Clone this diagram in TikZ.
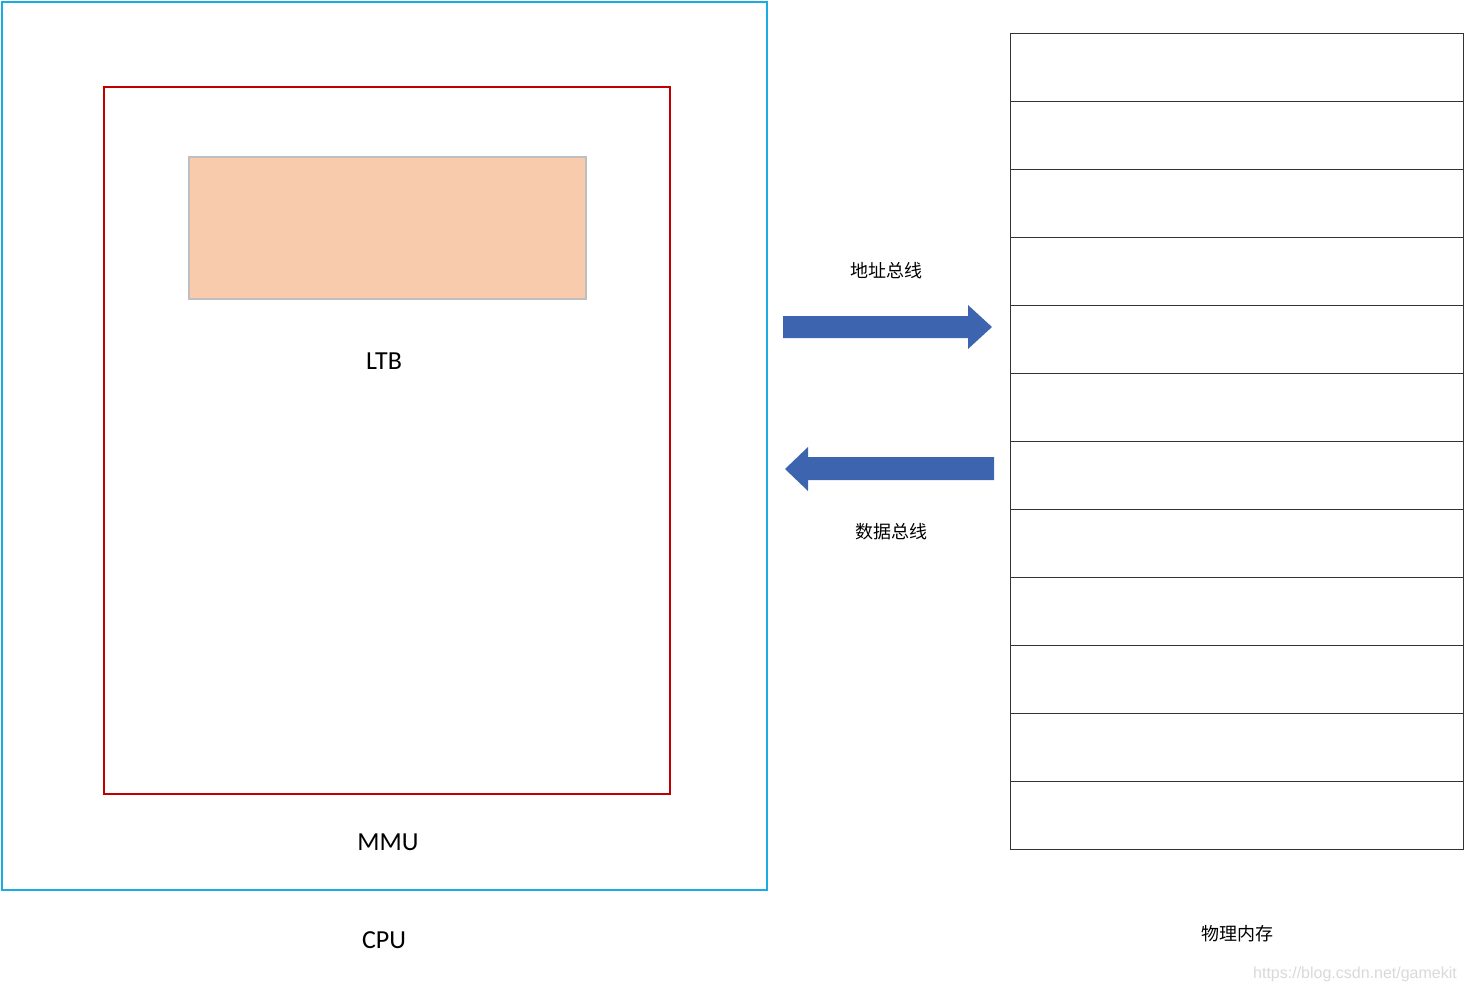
\documentclass[tikz,border=0pt]{standalone}
\usepackage{fontspec}
\setmainfont{Carlito}
\newfontfamily\cjk{Noto Sans CJK SC}
\newfontfamily\wmfont{Liberation Sans}
\definecolor{cpuc}{HTML}{1AADE4}
\definecolor{mmuc}{HTML}{C00000}
\definecolor{ltbf}{HTML}{F7CBAC}
\definecolor{ltbd}{HTML}{BFBFBF}
\definecolor{arr}{HTML}{3D64AE}
\begin{document}
\begin{tikzpicture}[x=1pt,y=-1pt,
  lbl/.style={font=\fontsize{26}{30}\selectfont},
  clbl/.style={font=\cjk\fontsize{18}{21}\selectfont},
  cell/.style={draw=black!80,line width=1pt}]
\useasboundingbox (0,0) rectangle (1465,993);
\draw[cpuc,line width=2.8pt] (2,2) rectangle (767,890);
\draw[mmuc,line width=2.6pt] (104,87) rectangle (670,794);
\draw[ltbd,fill=ltbf,line width=2.8pt] (189,157) rectangle (586,299);
\node[lbl] (ltb) at (384,361) {LTB};
\node[lbl] (mmu) at (388,842) {MMU};
\node[lbl] (cpu) at (384,940) {CPU};
\foreach \i in {0,...,11}{
  \draw[cell] (1010,{33+68*\i}) rectangle (1463,{33+68*(\i+1)});
}
\fill[arr] (783,316) -- (968,316) -- (968,305) -- (992,327) -- (968,349) -- (968,338) -- (783,338) -- cycle;
\fill[arr] (994,457) -- (808,457) -- (808,447) -- (785,469) -- (808,491) -- (808,480) -- (994,480) -- cycle;
\node[clbl] (addr) at (886,271) {地址总线};
\node[clbl] (data) at (891,532) {数据总线};
\node[clbl] (mem) at (1237,934) {物理内存};
\node[font=\wmfont\fontsize{16}{18}\selectfont,text=black!15] (wm) at (1355,974) {https://blog.csdn.net/gamekit};
\end{tikzpicture}
\end{document}
